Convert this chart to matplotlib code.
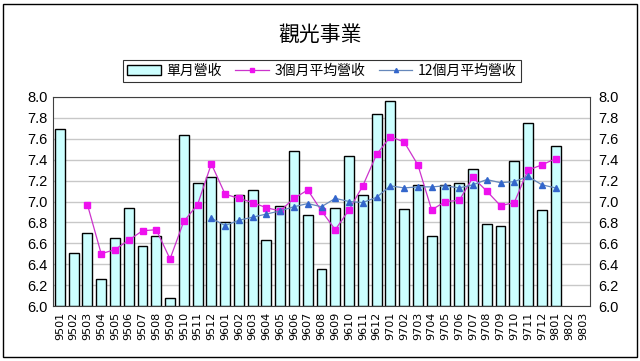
import matplotlib
matplotlib.use("Agg")
from matplotlib import pyplot as plt
from matplotlib.patches import Rectangle
import numpy as np

plt.rcParams['font.family'] = ['Noto Sans CJK TC', 'DejaVu Sans']

months = ["9501", "9502", "9503", "9504", "9505", "9506", "9507", "9508", "9509", "9510", "9511", "9512",
          "9601", "9602", "9603", "9604", "9605", "9606", "9607", "9608", "9609", "9610", "9611", "9612",
          "9701", "9702", "9703", "9704", "9705", "9706", "9707", "9708", "9709", "9710", "9711", "9712",
          "9801", "9802", "9803"]

monthly = [7.69, 6.51, 6.70, 6.26, 6.65, 6.94, 6.57, 6.67, 6.08, 7.64, 7.18, 7.23,
           6.80, 7.06, 7.11, 6.63, 6.96, 7.48, 6.87, 6.35, 6.94, 7.44, 7.06, 7.84,
           7.96, 6.93, 7.16, 6.67, 7.16, 7.18, 7.31, 6.78, 6.77, 7.39, 7.75, 6.92,
           7.53, None, None]

avg3 = [None, None, 6.97, 6.50, 6.54, 6.63, 6.72, 6.73, 6.45, 6.81, 6.97, 7.36,
        7.07, 7.03, 6.99, 6.94, 6.91, 7.03, 7.11, 6.91, 6.73, 6.92, 7.15, 7.45,
        7.62, 7.57, 7.35, 6.92, 7.00, 7.01, 7.23, 7.10, 6.96, 6.99, 7.30, 7.35,
        7.41, None, None]

avg12 = [None] * 11 + [6.84,
         6.77, 6.82, 6.85, 6.88, 6.91, 6.95, 6.98, 6.95, 7.03, 7.00, 6.99, 7.04,
         7.15, 7.13, 7.14, 7.14, 7.15, 7.13, 7.16, 7.21, 7.18, 7.19, 7.24, 7.16,
         7.13, None, None]

def arr(v):
    return np.array([np.nan if a is None else a for a in v], dtype=float)

x = np.arange(len(months))
bars = arr(monthly)
ymin = 6.0

fig = plt.figure(figsize=(6.4, 3.61), dpi=100)
ax = fig.add_axes([53/640, 1 - 306/361, (590-53)/640, (306-97)/361])

b = ax.bar(x, bars - ymin, 0.72, bottom=ymin, color='#CCFFFF', edgecolor='black',
           linewidth=1.0, label='單月營收', zorder=2)
l3, = ax.plot(x, arr(avg3), color='#CC33CC', linewidth=0.9, marker='s', markersize=4.5,
              markerfacecolor='#EE11EE', markeredgecolor='#EE11EE', label='3個月平均營收', zorder=3)
l12, = ax.plot(x, arr(avg12), color='#6688BB', linewidth=0.9, marker='^', markersize=5,
               markerfacecolor='#3366CC', markeredgecolor='#3366CC', label='12個月平均營收', zorder=3)

ax.set_xlim(-0.5, len(months) - 0.5)
ax.set_ylim(6.0, 8.0)
yt = np.arange(6.0, 8.01, 0.2)
ax.set_yticks(yt)
ax.set_yticklabels([f"{v:.1f}" for v in yt], fontsize=10.5, family='Liberation Sans')
ax.set_xticks(x)
ax.set_xticklabels(months, rotation=90, fontsize=8, family='DejaVu Sans')
ax.tick_params(axis='x', length=0, pad=4)
ax.tick_params(axis='y', length=0, pad=4)
ax.yaxis.grid(True, color='#C8C8C8', linewidth=1.0, zorder=0)
ax.set_axisbelow(True)
for s in ax.spines.values():
    s.set_color('#404040')
    s.set_linewidth(0.8)

ax2 = ax.twinx()
ax2.set_ylim(6.0, 8.0)
ax2.set_yticks(yt)
ax2.set_yticklabels([f"{v:.1f}" for v in yt], fontsize=10.5, family='Liberation Sans')
ax2.tick_params(axis='y', length=0, pad=6)
for s in ax2.spines.values():
    s.set_visible(False)

fig.text(0.5, 1 - 35/361, '觀光事業', ha='center', va='center', fontsize=15)

leg = fig.legend([b, l3, l12], ['單月營收', '3個月平均營收', '12個月平均營收'],
                 loc='center', bbox_to_anchor=(322/640, 1 - 71/361), ncol=3,
                 fontsize=10, frameon=True, fancybox=False, edgecolor='black',
                 handlelength=2.4, columnspacing=1.0, handletextpad=0.4,
                 borderpad=0.3, markerscale=0.6)
leg.get_frame().set_linewidth(0.8)

fig.patches.append(Rectangle((3/640, 4/361), 634/640, 353/361, transform=fig.transFigure,
                             fill=False, edgecolor='black', linewidth=1.0))

fig.savefig('out.png', dpi=100)
